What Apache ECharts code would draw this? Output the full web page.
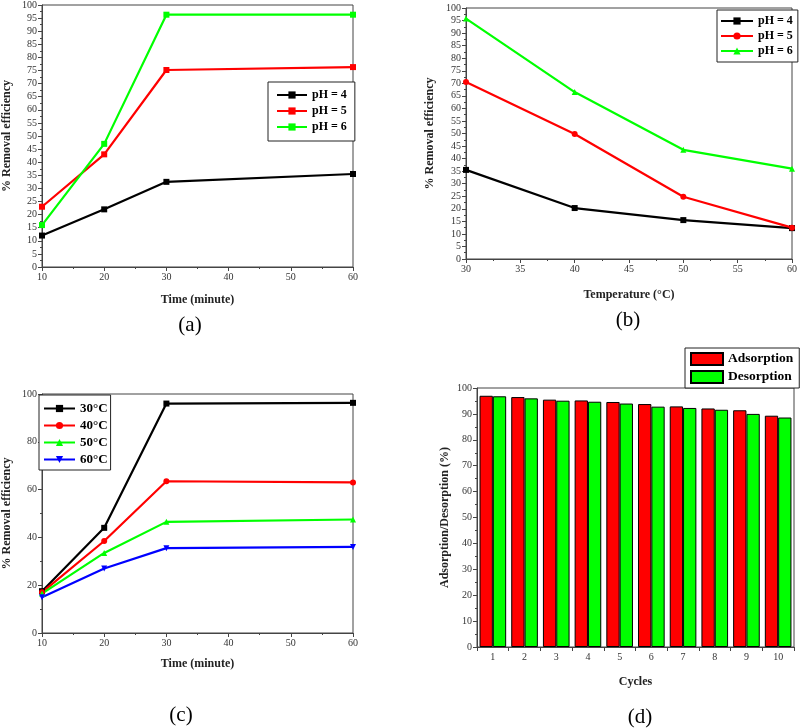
<!DOCTYPE html>
<html>
<head>
<meta charset="utf-8">
<script src="https://cdn.jsdelivr.net/npm/echarts@6/dist/echarts.min.js"></script>
<style>html,body{margin:0;padding:0;background:#fff}#c{width:800px;height:728px}</style>
</head>
<body>
<div id="c"></div>
<script>
// ---- Data ----
const timeX = [10, 20, 30, 60];
const phNames = ['pH = 4', 'pH = 5', 'pH = 6'];
const a_pH4 = [12, 22, 32.5, 35.5];
const a_pH5 = [23, 43, 75.2, 76.3];
const a_pH6 = [16, 47, 96.3, 96.3];

const tempX = [30, 40, 50, 60];
const b_pH4 = [35.5, 20.3, 15.5, 12.3];
const b_pH5 = [70.5, 49.8, 24.8, 12.5];
const b_pH6 = [95.8, 66.5, 43.5, 36];

const tempNames = ['30°C', '40°C', '50°C', '60°C'];
const c_30 = [17.5, 44, 96, 96.3];
const c_40 = [17, 38.5, 63.5, 63];
const c_50 = [16.5, 33.5, 46.5, 47.5];
const c_60 = [15, 27, 35.5, 36];

const cycles = ['1', '2', '3', '4', '5', '6', '7', '8', '9', '10'];
const adsorption = [97, 96.5, 95.5, 95.2, 94.6, 93.8, 92.9, 92.1, 91.4, 89.3];
const desorption = [96.8, 96, 95.1, 94.7, 94, 92.8, 92.3, 91.6, 90, 88.6];

const captions = ['(a)', '(b)', '(c)', '(d)'];

// ---- Helpers ----
const FF = 'Liberation Serif';
const AX = '#444';
function pairs(xs, ys) { return xs.map((x, i) => [x, ys[i]]); }
function axisBase(gridIndex, name, gap) {
  return {
    gridIndex: gridIndex,
    name: name,
    nameLocation: 'middle',
    nameGap: gap,
    nameTextStyle: { fontFamily: FF, fontWeight: 'bold', fontSize: 12, color: '#222' },
    axisLine: { show: true, lineStyle: { color: AX, width: 1 } },
    axisTick: { show: true, inside: false, length: 4, lineStyle: { color: AX } },
    minorTick: { show: true, splitNumber: 2, length: 2, lineStyle: { color: AX } },
    axisLabel: { fontFamily: FF, fontSize: 10, color: '#333', margin: 5 },
    splitLine: { show: false }
  };
}
function valAxis(gridIndex, name, gap, min, max, interval) {
  return Object.assign(axisBase(gridIndex, name, gap), { type: 'value', min: min, max: max, interval: interval });
}
function lineSeries(name, xi, yi, xs, ys, color, symbol) {
  return {
    type: 'line', name: name, xAxisIndex: xi, yAxisIndex: yi,
    data: pairs(xs, ys),
    symbol: symbol, symbolSize: 6,
    lineStyle: { color: color, width: 2.2 },
    itemStyle: { color: color },
    emphasis: { disabled: true }, animation: false
  };
}
const SQ = 'rect', CI = 'circle', TR = 'triangle', DT = 'path://M0,0 L10,0 L5,9 Z';
const RED = '#ff0000', GREEN = '#00ff00', BLACK = '#000000', BLUE = '#0000ff';

function legendBox(names, left, top, padding, itemWidth, itemHeight, itemGap, fontSize, lh) {
  return {
    data: names, orient: 'vertical', left: left, top: top, padding: padding,
    itemWidth: itemWidth, itemHeight: itemHeight, itemGap: itemGap,
    borderColor: '#222', borderWidth: 1, backgroundColor: '#fff',
    selectedMode: false,
    textStyle: { fontFamily: FF, fontWeight: 'bold', fontSize: fontSize, color: '#000', lineHeight: lh }
  };
}

const bNames = phNames.map(n => n + ' ');

const option = {
  animation: false,
  backgroundColor: '#fff',
  grid: [
    { left: 40, top: 4, width: 313, height: 263, show: true, borderColor: AX, borderWidth: 1 },
    { left: 466, top: 8, width: 328, height: 251, show: true, borderColor: AX, borderWidth: 1 },
    { left: 40, top: 394, width: 313, height: 239, show: true, borderColor: AX, borderWidth: 1 },
    { left: 477, top: 388, width: 317, height: 259, show: true, borderColor: AX, borderWidth: 1 }
  ],
  xAxis: [
    valAxis(0, 'Time (minute)', 27, 10, 60, 10),
    valAxis(1, 'Temperature (°C)', 30, 30, 60, 5),
    valAxis(2, 'Time (minute)', 25, 10, 60, 10),
    Object.assign(axisBase(3, 'Cycles', 29), { type: 'category', data: cycles, minorTick: { show: false }, axisTick: { show: true, length: 4, lineStyle: { color: AX } } })
  ],
  yAxis: [
    valAxis(0, '% Removal efficiency', 29, 0, 100, 5),
    valAxis(1, '% Removal efficiency', 30, 0, 100, 5),
    valAxis(2, '% Removal efficiency', 29, 0, 100, 20),
    valAxis(3, 'Adsorption/Desorption (%)', 26, 0, 100, 10)
  ],
  legend: [
    legendBox(phNames, 268, 82, [7, 8, 8, 8], 30, 9, 4, 12, 12),
    legendBox(bNames, 717, 10, [5, 2, 5, 3], 32, 9, 3, 12, 12),
    legendBox(tempNames, 39, 395, [7, 3, 4, 4], 31, 9, 4, 13, 13),
    Object.assign(legendBox(['Adsorption', 'Desorption'], 685, 348, [4, 6, 4, 5], 32, 12, 4, 13.5, 14), { icon: 'rect' })
  ],
  series: [
    lineSeries(phNames[0], 0, 0, timeX, a_pH4, BLACK, SQ),
    lineSeries(phNames[1], 0, 0, timeX, a_pH5, RED, SQ),
    lineSeries(phNames[2], 0, 0, timeX, a_pH6, GREEN, SQ),
    lineSeries(bNames[0], 1, 1, tempX, b_pH4, BLACK, SQ),
    lineSeries(bNames[1], 1, 1, tempX, b_pH5, RED, CI),
    lineSeries(bNames[2], 1, 1, tempX, b_pH6, GREEN, TR),
    lineSeries(tempNames[0], 2, 2, timeX, c_30, BLACK, SQ),
    lineSeries(tempNames[1], 2, 2, timeX, c_40, RED, CI),
    lineSeries(tempNames[2], 2, 2, timeX, c_50, GREEN, TR),
    lineSeries(tempNames[3], 2, 2, timeX, c_60, BLUE, DT),
    {
      type: 'bar', name: 'Adsorption', xAxisIndex: 3, yAxisIndex: 3, data: adsorption,
      barGap: '0%', barCategoryGap: '16%',
      itemStyle: { color: RED, borderColor: '#000', borderWidth: 1 }
    },
    {
      type: 'bar', name: 'Desorption', xAxisIndex: 3, yAxisIndex: 3, data: desorption,
      barGap: '0%', barCategoryGap: '16%',
      itemStyle: { color: GREEN, borderColor: '#000', borderWidth: 1 }
    }
  ],
  graphic: [
    { type: 'text', x: 190, y: 325, style: { text: captions[0], font: '21px "Liberation Serif"', fill: '#000', textAlign: 'center', textVerticalAlign: 'middle' } },
    { type: 'text', x: 628, y: 320, style: { text: captions[1], font: '21px "Liberation Serif"', fill: '#000', textAlign: 'center', textVerticalAlign: 'middle' } },
    { type: 'text', x: 181, y: 715, style: { text: captions[2], font: '21px "Liberation Serif"', fill: '#000', textAlign: 'center', textVerticalAlign: 'middle' } },
    { type: 'text', x: 640, y: 717, style: { text: captions[3], font: '21px "Liberation Serif"', fill: '#000', textAlign: 'center', textVerticalAlign: 'middle' } }
  ]
};

const chart = echarts.init(document.getElementById('c'), null, { renderer: 'canvas' });
chart.setOption(option);
</script>
</body>
</html>
